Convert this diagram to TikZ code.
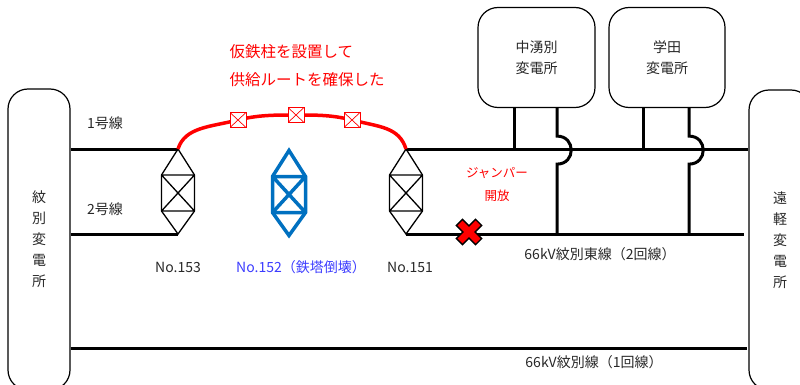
\documentclass[tikz,border=0pt]{standalone}
\usepackage{fontspec}
\newfontfamily\jp{Noto Sans CJK JP}
\usetikzlibrary{calc}
\definecolor{txt}{RGB}{40,40,40}
\definecolor{tblue}{RGB}{0,112,192}
\definecolor{lblue}{RGB}{60,60,255}
\begin{document}
\begin{tikzpicture}[x=1pt,y=-1pt,
  every node/.style={font=\jp\fontsize{14}{16}\selectfont, text=txt},
  wire/.style={line width=3pt, black},
  sub/.style={draw, line width=1.2pt, rounded corners=20pt, inner sep=0pt, align=center,
    font=\jp\fontsize{14}{21}\selectfont},
  rbox/.style={draw=red, fill=white, minimum width=16pt, minimum height=15pt, inner sep=0pt, line width=0.9pt,
    path picture={\draw[red, line width=0.7pt] (path picture bounding box.north west)--(path picture bounding box.south east)
      (path picture bounding box.north east)--(path picture bounding box.south west);}},
  redtxt/.style={text=red, font=\jp\fontsize{15.5}{18}\selectfont},
  pics/tower/.style={code={
    \draw[#1] (0,-42.5) coordinate (-top) -- (16.5,-16.5) -- (16.5,19.5) -- (0,42.5) coordinate (-bot)
      -- (-16.5,19.5) -- (-16.5,-16.5) -- cycle;
    \draw[#1] (-16.5,-16.5) -- (16.5,-16.5) (-16.5,19.5) -- (16.5,19.5)
      (-16.5,-16.5) -- (16.5,19.5) (16.5,-16.5) -- (-16.5,19.5);
  }}
]
\useasboundingbox (0,0) rectangle (800,385);
\clip (0,0) rectangle (800,385);

% substations
\node[sub, minimum width=62pt, minimum height=301pt] (sL) at (39,239.5) {紋\\別\\変\\電\\所};
\node[sub, minimum width=62pt, minimum height=300pt] (sR) at (780,240) {遠\\軽\\変\\電\\所};
\node[sub, minimum width=117pt, minimum height=100pt] (sA) at (536.5,57.5) {中湧別\\変電所};
\node[sub, minimum width=116pt, minimum height=100pt] (sB) at (667,57.5) {学田\\変電所};

% towers
\pic (t153) at (178,191.5) {tower={line width=1.3pt, line join=miter}};
\pic (t152) at (289,193) {tower={line width=3.5pt, tblue, line join=miter}};
\pic (t151) at (406,191.5) {tower={line width=1.3pt, line join=miter}};

% lines
\coordinate (yb) at (0,348);
\draw[wire] (sL.east |- t153-top) -- (t153-top);
\draw[wire] (sL.east |- t153-bot) -- (t153-bot);
\draw[wire] (t151-top) -- (sR.west |- t151-top);
\draw[wire] (t151-bot) -- ([xshift=-4pt]sR.west |- t151-bot);
\draw[wire] (sL.east |- yb) -- ([xshift=-1pt]sR.west |- yb);

% substation feeders
\draw[wire] ([xshift=-22.5pt]sA.south) coordinate (a1) -- (a1 |- t151-top);
\draw[wire] ([xshift=20.5pt]sA.south) -- ++(0,28) .. controls +(19,0) and +(19,0) .. ++(0,28) coordinate (a2) -- (a2 |- t151-bot);
\draw[wire] ([xshift=-24pt]sB.south) coordinate (b1x) -- (b1x |- t151-top);
\draw[wire] ([xshift=22pt]sB.south) -- ++(0,28) .. controls +(19,0) and +(19,0) .. ++(0,28) coordinate (b2x) -- (b2x |- t151-bot);

% temporary route
\coordinate (p1) at (238,120);
\coordinate (p2) at (296,115);
\coordinate (p3) at (352,120);
\draw[red, line width=3.5pt] (t153-top) .. controls +(7,-22) and +(-28,7) .. (p1)
  .. controls +(20,-5) and +(-22,0) .. (p2)
  .. controls +(22,0) and +(-20,-5) .. (p3)
  .. controls +(28,7) and +(-7,-22) .. (t151-top);
\node[rbox] (r1) at (p1) {};
\node[rbox] (r2) at (p2) {};
\node[rbox] (r3) at (p3) {};

% jumper cut mark
\coordinate (cut) at (469,232);
\draw[black, line width=10pt] ([shift={(-10.1,-10.1)}]cut) -- ([shift={(10.1,10.1)}]cut)
  ([shift={(10.1,-10.1)}]cut) -- ([shift={(-10.1,10.1)}]cut);
\draw[red, line width=7pt] ([shift={(-9,-9)}]cut) -- ([shift={(9,9)}]cut)
  ([shift={(9,-9)}]cut) -- ([shift={(-9,9)}]cut);

% labels
\node (l1) at (105,123) {1号線};
\node (l2) at (105,209) {2号線};
\node (n153) at (178,267) {No.153};
\node[text=lblue] (n152) at (301,267) {No.152（鉄塔倒壊）};
\node (n151) at (410,267) {No.151};
\node (e2) at (600,254) {66kV紋別東線（2回線）};
\node (e1) at (594,362) {66kV紋別線（1回線）};
\node[redtxt, anchor=west] (m1) at (226,52) {仮鉄柱を設置して};
\node[redtxt, anchor=west] (m2) at (226,80) {供給ルートを確保した};
\node[text=red, font=\jp\fontsize{12.5}{15}\selectfont] (j1) at (497,173) {ジャンパー};
\node[text=red, font=\jp\fontsize{12.5}{15}\selectfont] (j2) at (497,196) {開放};
\end{tikzpicture}
\end{document}
